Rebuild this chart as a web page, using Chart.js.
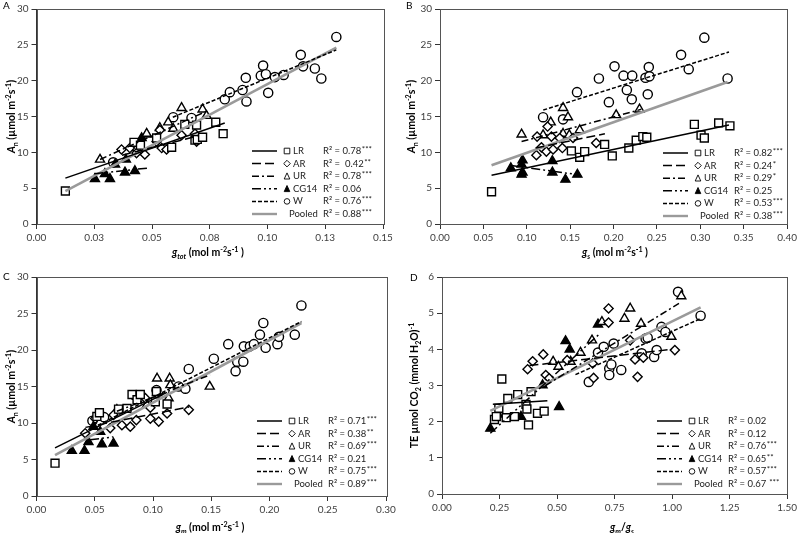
<!DOCTYPE html>
<html>
<head>
<meta charset="utf-8">
<script src="https://cdn.jsdelivr.net/npm/chart.js@4.4.0/dist/chart.umd.min.js"></script>
<style>
  html, body { margin: 0; padding: 0; background: #fff; }
  #wrap { position: relative; width: 800px; height: 533px; }
  canvas { position: absolute; }
</style>
</head>
<body>
<div id="wrap">
  <canvas id="cA" width="400" height="266" style="left:0;top:0"></canvas>
  <canvas id="cB" width="400" height="266" style="left:400px;top:0"></canvas>
  <canvas id="cC" width="400" height="267" style="left:0;top:266px"></canvas>
  <canvas id="cD" width="400" height="267" style="left:400px;top:266px"></canvas>
</div>
<script>
// group names (legend order)
const names = ['LR', 'AR', 'UR', 'CG14', 'W', 'Pooled'];

// ---- panel A: An vs gtot
const aLR = [[0.0125,4.6],[0.0422,11.4],[0.045,11.0],[0.052,12.0],[0.0585,10.7],[0.0642,13.9],[0.0686,11.7],[0.0693,13.8],[0.0696,11.8],[0.0719,12.1],[0.0776,14.2],[0.0808,12.6]];
const aAR = [[0.0368,10.4],[0.0404,10.6],[0.0433,9.9],[0.0469,9.7],[0.052,11.5],[0.0534,13.1],[0.0542,10.6],[0.0563,10.4],[0.0628,12.4],[0.0686,12.6],[0.0693,11.5]];
const aUR = [[0.0275,9.0],[0.0433,10.6],[0.0477,12.6],[0.0534,13.4],[0.057,14.2],[0.0592,13.3],[0.0628,16.2],[0.0719,16.0],[0.0736,15.1]];
const aCG = [[0.0253,6.3],[0.0296,7.0],[0.0318,6.3],[0.034,8.3],[0.0383,7.2],[0.0387,9.0],[0.0426,7.4],[0.0455,12.0],[0.0477,12.5]];
const aW  = [[0.0332,8.6],[0.0592,14.9],[0.0671,14.8],[0.0815,17.4],[0.0837,18.4],[0.0892,18.7],[0.0906,20.4],[0.0909,17.1],[0.0971,20.7],[0.0981,22.1],[0.0993,20.9],[0.1003,18.3],[0.1032,20.5],[0.107,20.8],[0.1144,23.6],[0.1154,22.0],[0.1205,21.7],[0.1233,20.3],[0.1298,26.1]];
// fitted lines: x1, y1, x2, y2 (LR, AR, UR, CG14, W, Pooled)
const fitA = [[0.0125,6.4,0.0815,14.1],[0.037,9.6,0.07,12.3],[0.0275,9.0,0.074,15.8],[0.025,7.0,0.048,7.8],[0.059,14.9,0.1298,24.3],[0.0125,4.6,0.1298,24.6]];
const r2A = ['0.78', ' 0.42', '0.78', '0.06', '0.76', '0.88'];
const starsA = ['***', '**', '***', '', '***', '***'];
const xTicksA = [0, 0.025, 0.05, 0.075, 0.1, 0.125, 0.15];
const xLabelsA = ['0.00', '0.03', '0.05', '0.08', '0.10', '0.13', '0.15'];

// ---- panel B: An vs gs
const bLR = [[0.0594,4.5],[0.1514,10.2],[0.161,9.3],[0.1667,10.1],[0.1897,11.1],[0.1985,9.5],[0.2176,10.6],[0.2261,11.7],[0.2337,12.2],[0.2383,12.1],[0.2931,13.9],[0.3008,12.4],[0.3046,12.0],[0.3211,14.1],[0.3341,13.7]];
const bAR = [[0.1111,9.6],[0.1119,12.2],[0.1169,10.7],[0.1226,10.1],[0.124,13.6],[0.1284,12.2],[0.1303,10.4],[0.1379,12.0],[0.141,10.6],[0.1533,12.0],[0.18,11.3]];
const bUR = [[0.094,12.5],[0.1188,12.4],[0.1276,14.2],[0.1418,16.2],[0.1418,12.6],[0.1475,14.9],[0.149,12.4],[0.161,13.1],[0.203,15.2],[0.2299,16.0]];
const bCG = [[0.0816,7.8],[0.094,6.9],[0.094,8.3],[0.0951,7.2],[0.0951,8.9],[0.1295,8.8],[0.1295,7.2],[0.1445,6.2],[0.1583,6.9]];
const bW  = [[0.1188,14.9],[0.1418,14.6],[0.1579,18.4],[0.1831,20.3],[0.1946,17.0],[0.2011,22.0],[0.2115,20.7],[0.2153,18.7],[0.221,17.4],[0.2215,20.7],[0.2368,20.4],[0.2394,18.1],[0.2406,21.9],[0.2414,20.6],[0.2778,23.6],[0.2866,21.6],[0.3046,26.0],[0.3314,20.3]];
const fitB = [[0.0594,6.8,0.333,13.8],[0.11,10.6,0.19,12.6],[0.094,11.5,0.232,16.0],[0.08,8.2,0.158,6.9],[0.119,15.9,0.333,24.0],[0.0594,8.2,0.3314,19.8]];
const r2B = ['0.82', '0.24', '0.29', '0.25', '0.53', '0.38'];
const starsB = ['***', '*', '*', '', '***', '***'];
const xTicksB = [0, 0.05, 0.1, 0.15, 0.2, 0.25, 0.3, 0.35, 0.4];
const xLabelsB = ['0.00', '0.05', '0.10', '0.15', '0.20', '0.25', '0.30', '0.35', '0.40'];

// ---- panel C: An vs gm
const cLR = [[0.0159,4.5],[0.0518,10.9],[0.054,11.4],[0.0704,11.9],[0.0777,12.0],[0.082,13.9],[0.0863,13.2],[0.0891,13.9],[0.102,12.9],[0.1029,14.3],[0.1121,12.6]];
const cAR = [[0.0418,8.6],[0.0504,10.6],[0.0633,9.3],[0.0661,11.1],[0.0733,9.7],[0.0805,9.5],[0.0857,10.4],[0.0934,13.4],[0.0977,10.6],[0.0977,12.1],[0.1049,10.2],[0.1121,11.3],[0.1307,11.8]];
const cUR = [[0.069,11.8],[0.0862,13.6],[0.0948,12.5],[0.1035,14.1],[0.1035,16.1],[0.1134,13.4],[0.1143,16.1],[0.1149,15.2],[0.1487,15.0]];
const cCG = [[0.0303,6.2],[0.0412,6.2],[0.0446,7.4],[0.0489,9.5],[0.0547,8.8],[0.0561,7.1],[0.0661,7.2]];
const cW  = [[0.048,10.3],[0.058,10.8],[0.103,14.5],[0.122,15.0],[0.1278,14.7],[0.1307,17.4],[0.1522,18.8],[0.1646,20.8],[0.1709,17.1],[0.1723,18.4],[0.1775,18.4],[0.178,20.5],[0.1832,20.5],[0.1866,20.8],[0.1918,22.1],[0.1947,23.7],[0.1967,20.3],[0.2068,20.8],[0.2081,21.8],[0.2217,22.1],[0.2274,26.1]];
const fitC = [[0.0159,6.6,0.112,14.2],[0.042,9.4,0.131,12.2],[0.069,11.6,0.149,16.6],[0.046,7.7,0.066,8.1],[0.048,9.3,0.2274,23.9],[0.0159,5.6,0.2274,23.7]];
const r2C = ['0.71', '0.38', '0.69', '0.21', '0.75', '0.89'];
const starsC = ['***', '**', '***', '', '***', '***'];
const xTicksC = [0, 0.05, 0.1, 0.15, 0.2, 0.25, 0.3];
const xLabelsC = ['0.00', '0.05', '0.10', '0.15', '0.20', '0.25', '0.30'];

// ---- panel D: TE vs gm/gs
const dLR = [[0.228,2.06],[0.236,2.14],[0.247,2.37],[0.26,3.18],[0.279,2.11],[0.286,2.64],[0.315,2.14],[0.329,2.75],[0.365,2.48],[0.369,2.35],[0.376,1.91],[0.387,2.83],[0.415,2.23],[0.444,2.29]];
const dAR = [[0.372,3.45],[0.394,3.67],[0.44,3.86],[0.451,3.29],[0.466,3.2],[0.544,3.7],[0.655,3.61],[0.659,3.21],[0.724,5.13],[0.724,4.74],[0.818,4.25],[0.839,3.72],[0.85,3.24],[0.875,3.77],[1.012,3.98]];
const dUR = [[0.483,3.66],[0.506,3.52],[0.559,3.66],[0.602,3.91],[0.652,4.25],[0.695,4.76],[0.793,4.85],[0.818,5.13],[0.865,4.71],[0.997,4.35],[1.04,5.47]];
const dCG = [[0.21,1.81],[0.243,2.2],[0.343,2.14],[0.437,3.01],[0.509,2.41],[0.537,4.23],[0.555,4.0],[0.678,4.69]];
const dW  = [[0.638,3.1],[0.678,3.91],[0.703,4.07],[0.727,3.47],[0.727,3.29],[0.736,3.58],[0.746,4.16],[0.779,3.43],[0.868,3.89],[0.885,4.3],[0.894,4.32],[0.922,3.79],[0.933,3.98],[0.954,4.62],[0.971,4.48],[1.026,5.59],[1.124,4.93]];
const fitD = [[0.221,2.48,0.458,2.58],[0.38,3.55,1.0,4.0],[0.45,3.0,1.03,5.27],[0.21,1.68,0.68,4.4],[0.58,3.3,1.124,4.85],[0.21,2.3,1.124,5.16]];
const r2D = ['0.02', '0.12', '0.76', '0.65', '0.57', '0.67 '];
const starsD = ['', '', '***', '**', '***', '***'];
const xTicksD = [0, 0.25, 0.5, 0.75, 1, 1.25, 1.5];
const xLabelsD = ['0.00', '0.25', '0.50', '0.75', '1.00', '1.25', '1.50'];

const yTicksAn = [0, 5, 10, 15, 20, 25, 30];
const yTicksTE = [0, 1, 2, 3, 4, 5, 6];

const FONT = 'Lato, "Liberation Sans", sans-serif';
const marks = [
  { style: 'rect', fill: '#fff', r: 5.6 },
  { style: 'rectRot', fill: '#fff', r: 4.6 },
  { style: 'triangle', fill: '#fff', r: 5.2 },
  { style: 'triangle', fill: '#000', r: 5.2 },
  { style: 'circle', fill: '#fff', r: 4.6 }
];
const dashes = [[], [9, 4], [7, 3, 2, 3], [9, 3, 2, 3, 2, 3], [4, 2], []];

const anTitle = [{ t: 'A', i: 1 }, { t: 'n', sub: 1 }, { t: ' (µmol m' }, { t: '-2', sup: 1 }, { t: 's' }, { t: '-1', sup: 1 }, { t: ')' }];
const teTitle = [{ t: 'TE µmol CO' }, { t: '2', sub: 1 }, { t: ' (mmol H' }, { t: '2', sub: 1 }, { t: 'O)' }, { t: '-1', sup: 1 }];
const unit = [{ t: ' (mol m' }, { t: '-2', sup: 1 }, { t: 's' }, { t: '-1', sup: 1 }, { t: ' )' }];

function drawRich(ctx, segs, cx, cy, size, rot) {
  ctx.save();
  ctx.translate(cx, cy);
  if (rot) ctx.rotate(-Math.PI / 2);
  const parts = segs.map(s => {
    const sz = (s.sub || s.sup) ? size * 0.68 : size;
    const f = (s.i ? 'italic ' : '') + 'bold ' + sz + 'px ' + FONT;
    ctx.font = f;
    return { s, f, w: ctx.measureText(s.t).width };
  });
  let x = -parts.reduce((a, p) => a + p.w, 0) / 2;
  ctx.textBaseline = 'middle';
  ctx.textAlign = 'left';
  ctx.fillStyle = '#000';
  for (const p of parts) {
    ctx.font = p.f;
    const dy = p.s.sub ? size * 0.32 : p.s.sup ? -size * 0.3 : 0;
    ctx.fillText(p.s.t, x, dy);
    x += p.w;
  }
  ctx.restore();
}

function legendMark(ctx, k, x, y) {
  const r = 2.8;
  ctx.save();
  ctx.setLineDash([]);
  ctx.lineWidth = 0.9;
  ctx.strokeStyle = '#000';
  ctx.fillStyle = k === 3 ? '#000' : '#fff';
  ctx.beginPath();
  if (k === 0) ctx.rect(x - r, y - r, 2 * r, 2 * r);
  else if (k === 1) { ctx.moveTo(x, y - r - 0.5); ctx.lineTo(x + r + 0.5, y); ctx.lineTo(x, y + r + 0.5); ctx.lineTo(x - r - 0.5, y); ctx.closePath(); }
  else if (k === 2 || k === 3) { ctx.moveTo(x, y - r - 0.5); ctx.lineTo(x + r, y + r); ctx.lineTo(x - r, y + r); ctx.closePath(); }
  else ctx.arc(x, y, r, 0, Math.PI * 2);
  ctx.fill();
  ctx.stroke();
  ctx.restore();
}

function makePanel(p) {
  const pts = [p.lr, p.ar, p.ur, p.cg, p.w];
  const fitSets = p.fits.map((f, k) => ({
    type: 'line',
    data: [{ x: f[0], y: f[1] }, { x: f[2], y: f[3] }],
    borderColor: k === 5 ? '#9a9a9a' : '#000',
    borderWidth: k === 5 ? 2.6 : 1.5,
    borderDash: dashes[k],
    pointRadius: 0,
    fill: false,
    order: 0
  }));
  const ptSets = pts.map((d, k) => ({
    type: 'scatter',
    data: d.map(v => ({ x: v[0], y: v[1] })),
    pointStyle: marks[k].style,
    pointRadius: marks[k].r,
    backgroundColor: marks[k].fill,
    borderColor: '#000',
    borderWidth: 1.4,
    order: 1
  }));

  const deco = {
    id: 'deco',
    afterDraw(chart) {
      const ctx = chart.ctx, a = chart.chartArea;
      ctx.save();
      // plot frame
      ctx.strokeStyle = '#555';
      ctx.lineWidth = 1;
      ctx.strokeRect(Math.round(a.left) + 0.5, Math.round(a.top) + 0.5, Math.round(a.right - a.left), Math.round(a.bottom - a.top));
      // panel letter
      ctx.fillStyle = '#000';
      ctx.font = '10px ' + FONT;
      ctx.textBaseline = 'middle';
      ctx.textAlign = 'left';
      ctx.fillText(p.letter, p.letterX, p.letterY);
      // axis titles
      drawRich(ctx, p.xTitle, p.xTitleX, p.xTitleY, 10.5, false);
      drawRich(ctx, p.yTitle, p.yTitleX, (a.top + a.bottom) / 2, 10.5, true);
      // legend
      for (let k = 0; k < 6; k++) {
        const y = p.legY + k * 12.6;
        ctx.save();
        ctx.beginPath();
        ctx.setLineDash(dashes[k]);
        ctx.strokeStyle = k === 5 ? '#9a9a9a' : '#000';
        ctx.lineWidth = k === 5 ? 2.4 : 1.5;
        ctx.moveTo(p.legX, y);
        ctx.lineTo(p.legX + 25, y);
        ctx.stroke();
        ctx.restore();
        if (k < 5) legendMark(ctx, k, p.legX + 35, y);
        ctx.fillStyle = '#222';
        ctx.font = '9.5px ' + FONT;
        ctx.textAlign = 'left';
        ctx.textBaseline = 'middle';
        ctx.fillText(names[k], k < 5 ? p.legX + 41 : p.legX + 37, y);
        const txt = 'R² = ' + p.r2[k];
        ctx.fillText(txt, p.legX + 71, y);
        const w = ctx.measureText(txt).width;
        ctx.font = '8px ' + FONT;
        ctx.fillText(p.stars[k], p.legX + 71 + w + 0.5, y - 1.5);
      }
      ctx.restore();
    }
  };

  const tickFont = { family: FONT, size: 10 };
  return new Chart(document.getElementById(p.id), {
    type: 'scatter',
    data: { datasets: [...fitSets, ...ptSets] },
    options: {
      responsive: false,
      animation: false,
      layout: { padding: { left: 0, top: p.top, right: p.padR, bottom: 0 } },
      plugins: { legend: { display: false }, tooltip: { enabled: false } },
      scales: {
        x: {
          type: 'linear', min: 0, max: p.xTicks[p.xTicks.length - 1],
          afterBuildTicks: s => { s.ticks = p.xTicks.map(v => ({ value: v })); },
          afterFit: s => { s.height = p.xh; },
          ticks: { callback: (v, i) => p.xLabels[i], color: '#404040', font: tickFont, padding: 3, maxRotation: 0, autoSkip: false },
          grid: { drawOnChartArea: false, drawTicks: true, tickLength: 5, color: '#333' },
          border: { color: '#333', width: 1 }
        },
        y: {
          type: 'linear', min: 0, max: p.yTicks[p.yTicks.length - 1],
          afterBuildTicks: s => { s.ticks = p.yTicks.map(v => ({ value: v })); },
          afterFit: s => { s.width = p.left; },
          ticks: { callback: v => String(v), color: '#404040', font: tickFont, padding: 3 },
          grid: { drawOnChartArea: false, drawTicks: true, tickLength: 5, color: '#333' },
          border: { color: '#333', width: 1 }
        }
      }
    },
    plugins: [deco]
  });
}

const xg = s => [{ t: 'g', i: 1 }, { t: s, sub: 1, i: 1 }, ...unit];

makePanel({ id: 'cA', letter: 'A', letterX: 3, letterY: 6, lr: aLR, ar: aAR, ur: aUR, cg: aCG, w: aW, fits: fitA, r2: r2A, stars: starsA,
  xTicks: xTicksA, xLabels: xLabelsA, yTicks: yTicksAn, left: 36.5, top: 5, padR: 17, xh: 42,
  xTitle: xg('tot'), xTitleX: 208, xTitleY: 253, yTitle: anTitle, yTitleX: 12, legX: 252, legY: 151 });
makePanel({ id: 'cB', letter: 'B', letterX: 6, letterY: 6, lr: bLR, ar: bAR, ur: bUR, cg: bCG, w: bW, fits: fitB, r2: r2B, stars: starsB,
  xTicks: xTicksB, xLabels: xLabelsB, yTicks: yTicksAn, left: 40, top: 5, padR: 12, xh: 42,
  xTitle: xg('s'), xTitleX: 215, xTitleY: 253, yTitle: anTitle, yTitleX: 12, legX: 263, legY: 153 });
makePanel({ id: 'cC', letter: 'C', letterX: 3, letterY: 11, lr: cLR, ar: cAR, ur: cUR, cg: cCG, w: cW, fits: fitC, r2: r2C, stars: starsC,
  xTicks: xTicksC, xLabels: xLabelsC, yTicks: yTicksAn, left: 36.5, top: 11, padR: 14, xh: 37,
  xTitle: xg('m'), xTitleX: 210, xTitleY: 262, yTitle: anTitle, yTitleX: 12, legX: 257, legY: 155 });
makePanel({ id: 'cD', letter: 'D', letterX: 10, letterY: 12, lr: dLR, ar: dAR, ur: dUR, cg: dCG, w: dW, fits: fitD, r2: r2D, stars: starsD,
  xTicks: xTicksD, xLabels: xLabelsD, yTicks: yTicksTE, left: 42, top: 11, padR: 10, xh: 39,
  xTitle: [{ t: 'g', i: 1 }, { t: 'm', sub: 1, i: 1 }, { t: '/' }, { t: 'g', i: 1 }, { t: 's', sub: 1, i: 1 }], xTitleX: 222, xTitleY: 262, yTitle: teTitle, yTitleX: 15, legX: 257, legY: 155 });
</script>
</body>
</html>
